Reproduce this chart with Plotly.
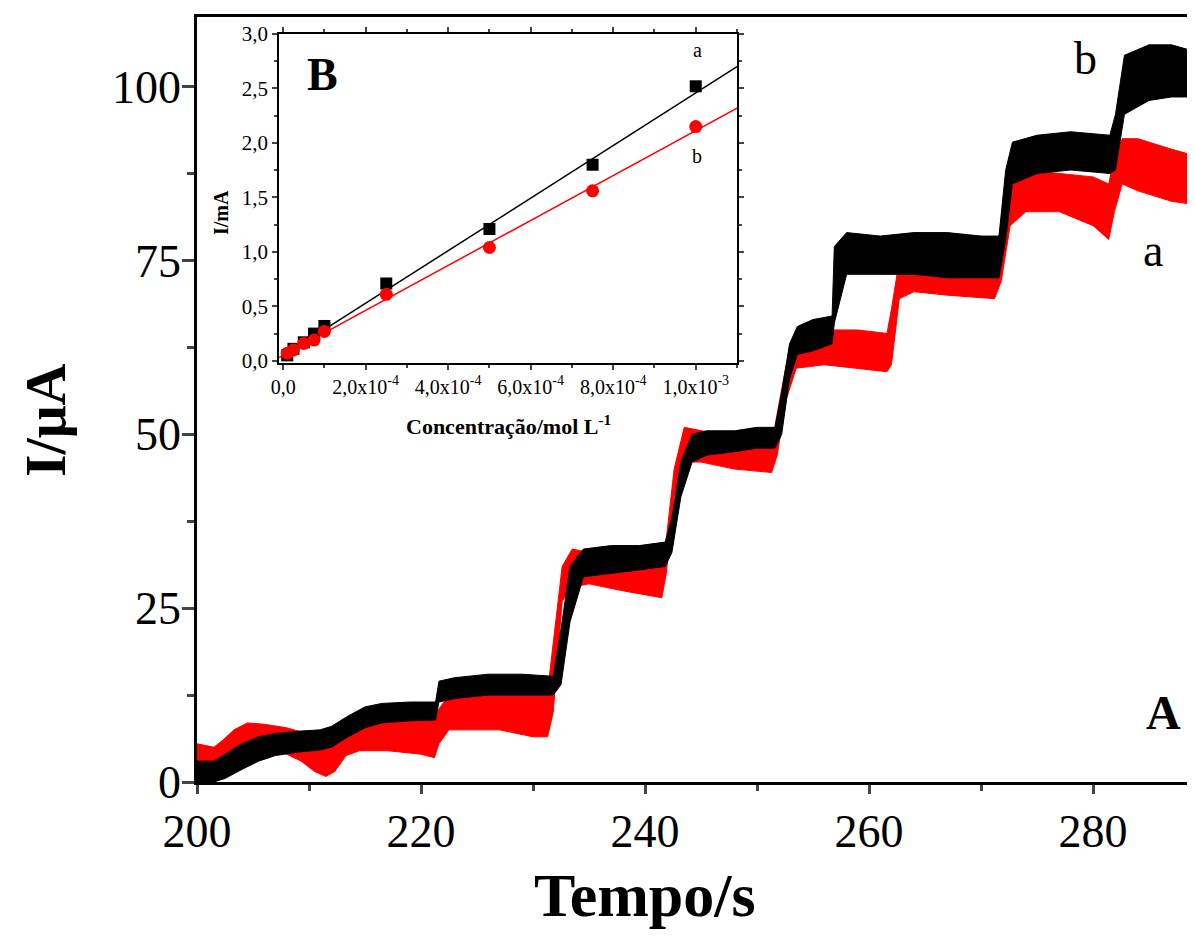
import plotly.graph_objects as go

# ---------------- main chart: amperometric traces (envelopes) ----------------
# curve b (black)
t_b = [200, 201.5, 202.5, 204, 205.5, 207, 209, 211, 212, 213.5, 215, 216.5, 219, 221.3, 221.6, 223, 226, 229,
       231.8, 232.5, 233.3, 234.5, 237, 239.5, 241.8, 242.4, 243.2, 244.2, 245.5, 248, 250, 251.6, 252.2, 252.9,
       253.6, 255, 256.7, 256.9, 258, 261, 264, 267, 270, 271.6, 272.2, 272.8, 275, 278, 281.5, 282.0, 282.8,
       285, 287, 289.2]
hi_b = [3, 3, 4, 5.5, 6.5, 7, 7.3, 7.5, 8, 9.5, 10.8, 11.3, 11.5, 11.5, 14.5, 15, 15.5, 15.5,
        15.2, 22, 31, 33.5, 34, 34, 34.5, 38, 46, 50, 50.5, 50.5, 51, 51, 56, 63,
        65.5, 66.5, 67, 77, 79, 78.5, 79, 79, 78.5, 78.5, 88, 92, 93, 93.5, 93, 96, 104.5,
        106, 106, 105]
lo_b = [0, 0, 0.5, 1.8, 3, 3.8, 4.3, 4.6, 5, 6.5, 7.8, 8.5, 8.8, 8.9, 11.5, 12, 12.5, 12.5,
        12.5, 14, 23, 29.5, 30, 30.5, 31, 33, 41, 46, 47, 47.5, 48, 48, 50, 58,
        61.5, 62, 63, 66, 73, 73, 73, 72.5, 72.5, 72.5, 78, 86, 87.5, 88, 87.5, 88, 96,
        98, 98.5, 98.5]

# curve a (red)
t_a = [200, 201.5, 202.3, 203.3, 204.5, 206, 208, 209.3, 210.5, 211.5, 212.3, 213.3, 214.5, 217, 220, 221.2,
       221.6, 222.5, 224, 227, 230, 231.3, 231.8, 232.6, 233.5, 235, 238, 241.5, 241.9, 242.6, 243.5, 245, 248,
       251.3, 251.8, 252.6, 253.5, 256, 259, 261.6, 262.0, 262.7, 264, 267, 271.2, 271.8, 272.6, 274, 277, 280,
       281.4, 281.9, 282.6, 284, 287, 289.2]
hi_a = [5.5, 5, 6, 7.5, 8.5, 8.3, 7.8, 7.2, 6.5, 6.3, 7, 8.8, 9.5, 9.3, 9, 8.8,
        10.5, 12.5, 13.3, 13.3, 13, 13, 20, 31, 33.5, 33, 32.5, 32, 35, 45, 51, 50.5, 49.5,
        48.5, 53, 60, 64.5, 65, 65, 64.5, 68, 75, 76.5, 76, 75.5, 80, 86, 88, 87.5, 87,
        86, 90, 92.5, 92.5, 91, 90]
lo_a = [2, 1.5, 2, 3.5, 4.5, 4.5, 4, 3, 1.5, 0.8, 1.5, 3.8, 4.5, 4.5, 4, 3.5,
        5.5, 7.5, 7.5, 7.5, 6.5, 6.5, 10, 26, 28, 28.5, 27.5, 26.5, 30, 41, 46, 46, 45,
        44.5, 47, 55, 59.5, 60, 59.5, 59, 60, 69.5, 70.5, 70, 69.5, 72, 80, 82, 82, 80,
        78, 82, 86, 85, 83.5, 83]

x_ticks = [200, 220, 240, 260, 280]
y_ticks = [0, 25, 50, 75, 100]

# ---------------- inset: calibration ----------------
conc = [1e-5, 2.5e-5, 5e-5, 7.5e-5, 1e-4, 2.5e-4, 5e-4, 7.5e-4, 1e-3]
i_a = [0.05, 0.11, 0.17, 0.25, 0.32, 0.71, 1.21, 1.80, 2.52]   # black squares
i_b = [0.07, 0.10, 0.16, 0.19, 0.27, 0.61, 1.04, 1.56, 2.15]   # red circles
fit_x_a = [1e-5, 1.1e-3]
fit_y_a = [0.07, 2.70]
fit_x_b = [-1e-5, 1.1e-3]
fit_y_b = [0.03, 2.32]
inset_xtick_vals = [0, 2e-4, 4e-4, 6e-4, 8e-4, 1e-3]
inset_xtick_text = ["0,0", "2,0x10<sup>-4</sup>", "4,0x10<sup>-4</sup>", "6,0x10<sup>-4</sup>",
                    "8,0x10<sup>-4</sup>", "1,0x10<sup>-3</sup>"]
inset_ytick_vals = [0, 0.5, 1.0, 1.5, 2.0, 2.5, 3.0]
inset_ytick_text = ["0,0", "0,5", "1,0", "1,5", "2,0", "2,5", "3,0"]

RED = "#ff0000"
BLK = "#000000"
FONT = "Liberation Serif"

OFF = 8  # default page body margin
W, H = 1195 - OFF, 944 - OFF
# plot area in window pixels: left 197, top 17, right 1195, bottom 782
ML, MT = 197 - OFF, 17 - OFF
MR = 0
MB = H - (782 - OFF)
PW, PH = W - ML - MR, H - MT - MB


def px(x):
    return (x - OFF - ML) / PW


def py(y):
    return 1 - (y - OFF - MT) / PH


fig = go.Figure()


def band(t, lo, hi, color, name):
    xs = list(t) + list(t)[::-1]
    ys = list(hi) + list(lo)[::-1]
    fig.add_trace(go.Scatter(x=xs, y=ys, mode="lines", fill="toself", fillcolor=color,
                             line=dict(color=color, width=1), name=name, showlegend=False,
                             xaxis="x", yaxis="y", hoverinfo="skip"))


band(t_a, lo_a, hi_a, RED, "a")
band(t_b, lo_b, hi_b, BLK, "b")

# inset traces
fig.add_trace(go.Scatter(x=fit_x_a, y=fit_y_a, mode="lines", line=dict(color=BLK, width=1.5),
                         xaxis="x2", yaxis="y2", showlegend=False))
fig.add_trace(go.Scatter(x=fit_x_b, y=fit_y_b, mode="lines", line=dict(color=RED, width=1.5),
                         xaxis="x2", yaxis="y2", showlegend=False))
fig.add_trace(go.Scatter(x=conc, y=i_a, mode="markers", marker=dict(symbol="square", size=12, color=BLK),
                         xaxis="x2", yaxis="y2", showlegend=False))
fig.add_trace(go.Scatter(x=conc, y=i_b, mode="markers", marker=dict(symbol="circle", size=13, color=RED),
                         xaxis="x2", yaxis="y2", showlegend=False))

# inset domain in paper coords (window pixels)
ix0, ix1 = px(279), px(737)
iy0, iy1 = py(363), py(34)

fig.update_layout(
    width=W, height=H,
    margin=dict(l=ML, r=MR, t=MT, b=MB, autoexpand=False),
    paper_bgcolor="white", plot_bgcolor="white",
    font=dict(family=FONT, color="black"),
    xaxis=dict(domain=[0, 1], range=[200, 289.1], tickvals=x_ticks, ticks="outside", ticklen=9,
               tickwidth=2.5, showline=True, linewidth=2.5, linecolor="black", mirror=True,
               showgrid=False, zeroline=False, tickfont=dict(size=46, family=FONT), automargin=False,
               ticklabelstandoff=-2,
               minor=dict(tickvals=[210, 230, 250, 270], ticks="outside", ticklen=6, tickwidth=2.5)),
    yaxis=dict(domain=[0, 1], range=[0, 110], tickvals=y_ticks, ticks="outside", ticklen=12,
               tickwidth=2.5, showline=True, linewidth=2.5, linecolor="black", mirror=False,
               showgrid=False, zeroline=False, tickfont=dict(size=46, family=FONT), automargin=False,
               ticklabelstandoff=-8,
               minor=dict(tickvals=[12.5, 37.5, 62.5, 87.5], ticks="outside", ticklen=7, tickwidth=2.5)),
    xaxis2=dict(domain=[ix0, ix1], anchor="y2", range=[-1e-5, 1.1e-3], tickvals=inset_xtick_vals,
                ticktext=inset_xtick_text, ticks="outside", ticklen=5, tickwidth=1.5,
                showline=True, linewidth=1.5, linecolor="black", mirror="ticks", showgrid=False,
                zeroline=False, tickfont=dict(size=20, family=FONT), automargin=False,
                minor=dict(tickvals=[1e-4, 3e-4, 5e-4, 7e-4, 9e-4, 1.1e-3], ticks="outside", ticklen=3,
                           tickwidth=1.5)),
    yaxis2=dict(domain=[iy0, iy1], anchor="x2", range=[-0.02, 3.0], tickvals=inset_ytick_vals,
                ticktext=inset_ytick_text, ticks="outside", ticklen=5, tickwidth=1.5,
                showline=True, linewidth=1.5, linecolor="black", mirror="ticks", showgrid=False,
                zeroline=False, tickfont=dict(size=21, family=FONT), automargin=False,
                minor=dict(tickvals=[0.25, 0.75, 1.25, 1.75, 2.25, 2.75], ticks="outside", ticklen=3,
                           tickwidth=1.5)),
)

ann = [
    dict(text="<b>Tempo/s</b>", x=px(645), y=py(895), size=62, angle=0),
    dict(text="<b>I/μA</b>", x=px(45), y=py(420), size=58, angle=-90),
    dict(text="b", x=px(1085), y=py(58), size=46, angle=0),
    dict(text="a", x=px(1153), y=py(250), size=46, angle=0),
    dict(text="<b>A</b>", x=px(1163), y=py(712), size=48, angle=0),
    dict(text="<b>B</b>", x=px(322), y=py(75), size=46, angle=0),
    dict(text="a", x=px(697), y=py(50), size=20, angle=0),
    dict(text="b", x=px(697), y=py(156), size=20, angle=0),
    dict(text="<b>I/mA</b>", x=px(221), y=py(213), size=20, angle=-90),
    dict(text="<b>Concentração/mol L<sup>-1</sup></b>", x=px(508), y=py(425), size=22, angle=0),
]
for a in ann:
    fig.add_annotation(text=a["text"], x=a["x"], y=a["y"], xref="paper", yref="paper",
                       showarrow=False, textangle=a["angle"], xanchor="center", yanchor="middle",
                       font=dict(size=a["size"], family=FONT, color="black"))

fig.write_html("out.html")
